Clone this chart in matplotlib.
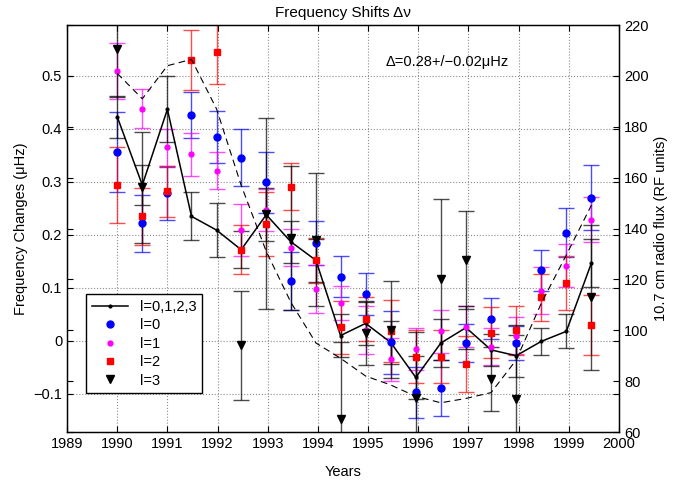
import numpy as np
import matplotlib
matplotlib.use('Agg')
import matplotlib.pyplot as plt

plt.rcParams['font.family'] = ['Liberation Sans', 'DejaVu Sans']
plt.rcParams['font.size'] = 10.5

nan = np.nan

# epochs of the frequency shift measurements
years = [1990.0, 1990.5, 1991.0, 1991.48, 1991.98, 1992.47, 1992.97, 1993.46, 1993.96, 1994.45,
         1994.95, 1995.45, 1995.95, 1996.45, 1996.95, 1997.45, 1997.95, 1998.45, 1998.95, 1999.45]

# l=0,1,2,3 combined
shift_all = [0.423, 0.294, 0.437, 0.235, 0.209, 0.172, 0.238, 0.187, 0.152, 0.010,
             0.033, -0.003, -0.069, -0.004, 0.025, -0.017, -0.028, -0.001, 0.018, 0.147]
err_all = [0.040, 0.037, 0.062, 0.045, 0.051, 0.035, 0.050, 0.040, 0.040, 0.040,
           0.040, 0.040, 0.040, 0.045, 0.040, 0.030, 0.040, 0.025, 0.032, 0.045]

shift_l0 = [0.356, 0.222, 0.279, 0.426, 0.385, 0.346, 0.299, 0.113, 0.185, 0.121,
            0.089, -0.003, -0.097, -0.089, -0.004, 0.042, -0.004, 0.133, 0.204, 0.270]
err_l0 = [0.076, 0.054, 0.050, 0.044, 0.049, 0.053, 0.058, 0.055, 0.041, 0.039,
          0.040, 0.060, 0.048, 0.052, 0.035, 0.039, 0.033, 0.039, 0.046, 0.061]

shift_l1 = [0.510, 0.438, 0.365, 0.352, 0.321, 0.209, 0.247, 0.176, 0.098, 0.071,
            0.020, -0.035, -0.015, 0.018, 0.027, -0.011, 0.010, 0.095, 0.142, 0.229]
err_l1 = [0.053, 0.037, 0.035, 0.040, 0.035, 0.049, 0.040, 0.035, 0.045, 0.032,
          0.045, 0.040, 0.040, 0.040, 0.038, 0.035, 0.035, 0.045, 0.041, 0.042]

shift_l2 = [0.294, 0.235, 0.282, 0.530, 0.546, 0.172, 0.221, 0.291, 0.152, 0.026,
            0.041, 0.019, -0.030, -0.030, -0.043, 0.015, 0.020, 0.082, 0.110, 0.030]
err_l2 = [0.072, 0.054, 0.048, 0.056, 0.062, 0.046, 0.060, 0.044, 0.043, 0.050,
          0.042, 0.059, 0.050, 0.050, 0.053, 0.048, 0.046, 0.044, 0.051, 0.057]

shift_l3 = [0.550, 0.290, nan, nan, nan, -0.008, 0.240, 0.194, 0.191, -0.148,
            0.015, 0.021, -0.108, 0.116, 0.153, -0.072, -0.110, nan, nan, 0.082]
err_l3 = [0.090, 0.105, nan, nan, nan, 0.103, 0.180, 0.136, 0.125, 0.145,
          0.060, 0.092, 0.125, 0.152, 0.092, 0.060, 0.140, nan, nan, 0.137]

# 10.7 cm radio flux
flux = [201, 191, 204, 206.5, 187, 157, 131, 111, 95, 89,
        82, 78.5, 74, 71.5, 73.2, 75.5, 88.3, 110.6, 129.6, 149.2]

fig = plt.figure(figsize=(6.99, 4.84), dpi=100)
ax = fig.add_axes([0.0959, 0.1074, 0.7897, 0.8409])
ax2 = ax.twinx()

bar_kw = dict(fmt='none', elinewidth=1.0, capsize=5.5, capthick=1.0, alpha=0.7)
ax.errorbar(years, shift_l0, yerr=err_l0, ecolor='blue', **bar_kw)
ax.errorbar(years, shift_l1, yerr=err_l1, ecolor='magenta', **bar_kw)
ax.errorbar(years, shift_l2, yerr=err_l2, ecolor='red', **bar_kw)
ax.errorbar(years, shift_l3, yerr=err_l3, ecolor='black', **bar_kw)
ax.errorbar(years, shift_all, yerr=err_all, ecolor='black', **bar_kw)

h_all, = ax.plot(years, shift_all, '-', color='black', lw=1.1, marker='.', ms=4, label='l=0,1,2,3')
h0, = ax.plot(years, shift_l0, 'o', color='blue', ms=5, ls='none', label='l=0')
h1, = ax.plot(years, shift_l1, 'o', color='magenta', ms=3.5, ls='none', label='l=1')
h2, = ax.plot(years, shift_l2, 's', color='red', ms=4.5, ls='none', label='l=2')
h3, = ax.plot(years, shift_l3, 'v', color='black', ms=6, ls='none', label='l=3')

ax2.plot(years, flux, color='black', lw=0.8, dashes=(6, 4))

ax.set_xlim(1989, 2000)
ax.set_xticks(range(1989, 2001))
ax.set_ylim(-0.172, 0.596)
yt = [-0.1, 0, 0.1, 0.2, 0.3, 0.4, 0.5]
ax.set_yticks(yt)
ax.set_yticklabels(['\u22120.1', '0', '0.1', '0.2', '0.3', '0.4', '0.5'])
ax2.set_ylim(60, 220)
ax2.set_yticks(range(60, 221, 20))

ax.grid(True, linestyle=':', color='0.55', linewidth=0.8)
ax.tick_params(direction='in', top=True, right=True, length=4, width=0.8)
ax2.tick_params(direction='in', left=True, right=True, labelleft=False, length=4, width=0.8)
for a in (ax, ax2):
    for s in a.spines.values():
        s.set_linewidth(0.9)

ax.set_xlabel('Years', labelpad=10)
ax.set_ylabel('Frequency Changes (\u03bcHz)')
ax2.set_ylabel('10.7 cm radio flux (RF units)')
ax.set_title('Frequency Shifts \u0394\u03bd', pad=6, fontsize=11)
ax.text(1995.35, 0.526, '\u0394=0.28+/\u22120.02\u03bcHz', ha='left', va='center')

leg = ax.legend(handles=[h_all, h0, h1, h2, h3], loc='lower left',
                bbox_to_anchor=(0.034, 0.095), borderaxespad=0, fancybox=False,
                edgecolor='black', framealpha=1, handlelength=2.5, labelspacing=0.3)
leg.get_frame().set_linewidth(1.0)

fig.savefig('out.png', dpi=100)
